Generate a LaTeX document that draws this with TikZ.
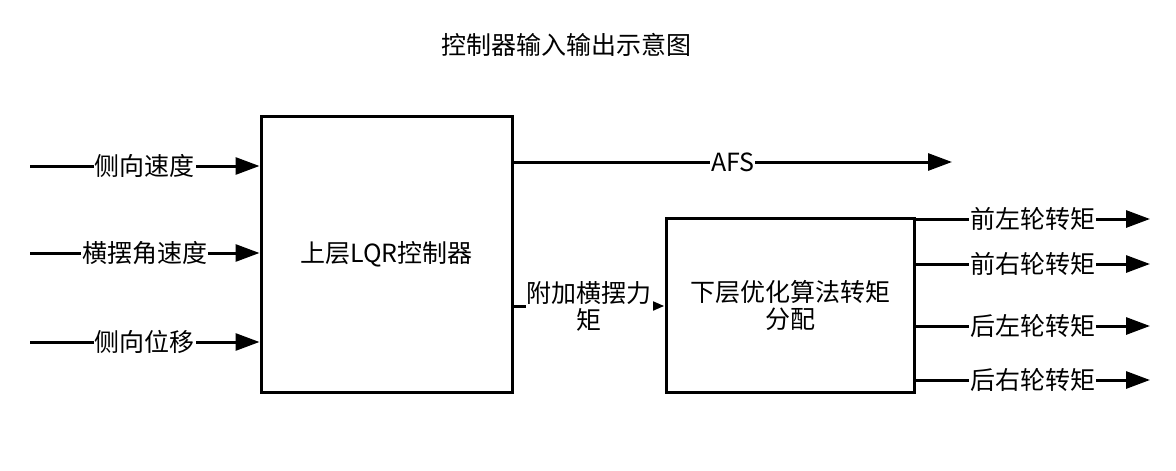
\documentclass[tikz,border=0pt]{standalone}
\usepackage{fontspec}
\setmainfont{Noto Sans CJK SC}
\usetikzlibrary{arrows.meta}
\begin{document}
\begin{tikzpicture}[x=1pt,y=-1pt,
  every node/.style={font=\fontsize{25}{28}\selectfont},
  blk/.style={draw,line width=3pt,inner sep=0pt},
  conn/.style={line width=3pt,-{Triangle[length=24pt,width=17pt]}},
  sconn/.style={line width=3pt,-{Triangle[length=12pt,width=9pt]}},
  lab/.style={fill=white,inner xsep=1pt,inner ysep=0pt}]
\useasboundingbox (0,0) rectangle (1176,471);
\node (title) at (566,45) {控制器输入输出示意图};
\node[blk,minimum width=251pt,minimum height=276pt] (up) at (386.5,254) {上层LQR控制器};
\node[blk,minimum width=248pt,minimum height=174pt] (low) at (790,305) {};
\node[align=center,font=\fontsize{25}{27}\selectfont] (lowt) at (790,305) {下层优化算法转矩\\分配};
\coordinate (i1) at (30,166);
\coordinate (i2) at (30,253);
\coordinate (i3) at (30,342);
\draw[conn] (i1) -- node[lab]{侧向速度} (i1 -| up.west);
\draw[conn] (i2) -- node[lab]{横摆角速度} (i2 -| up.west);
\draw[conn] (i3) -- node[lab]{侧向位移} (i3 -| up.west);
\coordinate (afs) at (952,162);
\draw[conn] (afs -| up.east) -- node[lab]{AFS} (afs);
\coordinate (m) at (512,306);
\draw[sconn] (m -| up.east) -- node[lab,align=center,font=\fontsize{25}{27}\selectfont]{附加横摆力\\矩} (m -| low.west);
\coordinate (o1) at (1150,219);
\coordinate (o2) at (1150,264);
\coordinate (o3) at (1150,326);
\coordinate (o4) at (1150,380);
\draw[conn] (o1 -| low.east) -- node[lab]{前左轮转矩} (o1);
\draw[conn] (o2 -| low.east) -- node[lab]{前右轮转矩} (o2);
\draw[conn] (o3 -| low.east) -- node[lab]{后左轮转矩} (o3);
\draw[conn] (o4 -| low.east) -- node[lab]{后右轮转矩} (o4);
\end{tikzpicture}
\end{document}
